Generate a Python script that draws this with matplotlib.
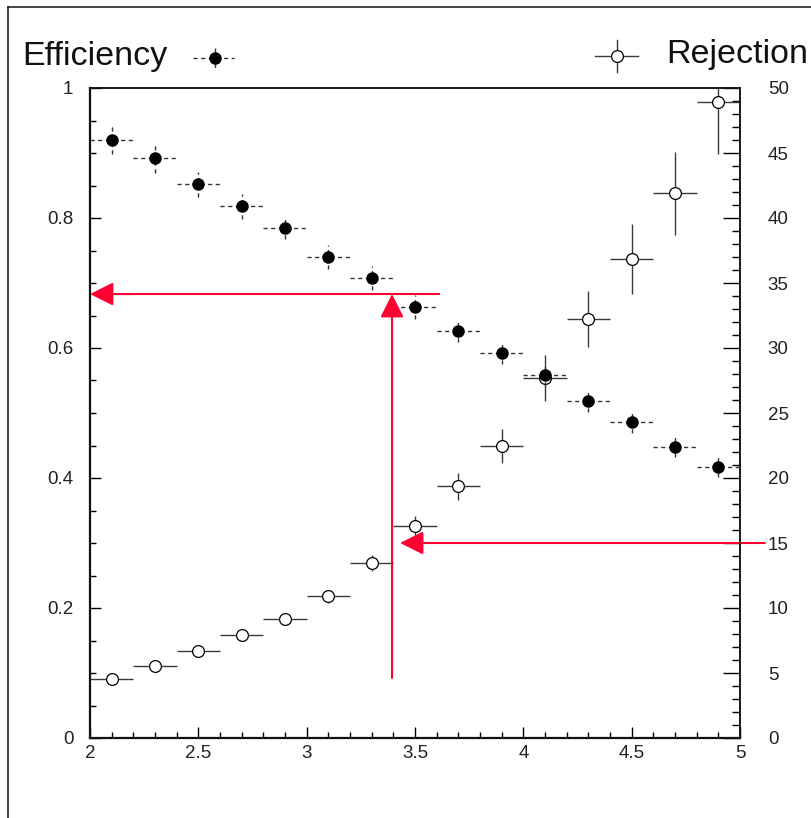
import numpy as np
import matplotlib
matplotlib.use("Agg")
import matplotlib.pyplot as plt
from matplotlib.ticker import MultipleLocator, FuncFormatter

plt.rcParams['font.family'] = ['Liberation Sans', 'DejaVu Sans']

# ---- data ----
x_centers = [2.1, 2.3, 2.5, 2.7, 2.9, 3.1, 3.3, 3.5, 3.7, 3.9, 4.1, 4.3, 4.5, 4.7, 4.9]
x_halfwidth = 0.1
efficiency = [0.920, 0.892, 0.852, 0.818, 0.785, 0.740, 0.708, 0.663, 0.626, 0.592,
              0.558, 0.518, 0.486, 0.448, 0.417]
efficiency_err = [0.022, 0.023, 0.019, 0.019, 0.018, 0.018, 0.018, 0.018, 0.017, 0.017,
                  0.017, 0.016, 0.016, 0.016, 0.015]
rejection = [4.54, 5.54, 6.69, 7.92, 9.15, 10.92, 13.46, 16.3, 19.38, 22.46,
             27.7, 32.2, 36.85, 41.9, 48.9]
rejection_err = [0.25, 0.3, 0.35, 0.4, 0.45, 0.5, 0.6, 0.8, 1.04, 1.3,
                 1.77, 2.15, 2.7, 3.2, 4.0]

# annotation values (cut choice)
cut_x = 3.394
cut_eff = 0.683
cut_rej = 15.0
line_end_x = 3.615
arrow_start_low = 0.0923
rej_arrow_tip_x = 3.431
rej_arrow_start_x = 5.115

RED = '#ff0033'

fig = plt.figure(figsize=(8.12, 8.18), dpi=100)
ax = fig.add_axes([90/812, 1-738/818, 650/812, 650/818])
ax2 = ax.twinx()
ax.set_zorder(ax2.get_zorder() + 1)
ax.patch.set_visible(False)

ax.set_xlim(2, 5)
ax.set_ylim(0, 1)
ax2.set_ylim(0, 50)

fmt = FuncFormatter(lambda v, p: '%g' % round(v, 3))
ax.xaxis.set_major_locator(MultipleLocator(0.5))
ax.xaxis.set_minor_locator(MultipleLocator(0.1))
ax.yaxis.set_major_locator(MultipleLocator(0.2))
ax.yaxis.set_minor_locator(MultipleLocator(0.05))
ax2.yaxis.set_major_locator(MultipleLocator(5))
ax2.yaxis.set_minor_locator(MultipleLocator(1))
ax.xaxis.set_major_formatter(fmt)
ax.yaxis.set_major_formatter(fmt)
ax2.yaxis.set_major_formatter(fmt)

lab_col = '#222222'
ax.tick_params(axis='x', which='major', direction='in', length=8, width=1, pad=5,
               labelsize=13.5, labelcolor=lab_col, top=False)
ax.tick_params(axis='x', which='minor', direction='in', length=4.3, width=1, top=False)
ax.tick_params(axis='y', which='major', direction='in', length=8, width=1, pad=12,
               labelsize=13.5, labelcolor=lab_col, right=False)
ax.tick_params(axis='y', which='minor', direction='in', length=4.3, width=1, right=False)
ax2.tick_params(axis='y', which='major', direction='in', length=12, width=1, pad=20,
                labelsize=13.5, labelcolor=lab_col)
ax2.tick_params(axis='y', which='minor', direction='in', length=6, width=1)
ax2.tick_params(axis='x', which='both', top=False, bottom=False)

for a in (ax, ax2):
    for s in a.spines.values():
        s.set_linewidth(1.1)
        s.set_color('#111111')
ax.spines['left'].set_linewidth(1.6)
ax.spines['bottom'].set_linewidth(1.6)

# rejection (open circles, solid error bars)
r = ax2.errorbar(x_centers, rejection, xerr=x_halfwidth, yerr=rejection_err,
                 fmt='o', ms=8.5, mfc='white', mec='black', mew=0.9,
                 ecolor='#3a3a3a', elinewidth=1.0, capsize=0, zorder=3)

# efficiency (filled circles, dashed error bars)
e = ax.errorbar(x_centers, efficiency, xerr=x_halfwidth, yerr=efficiency_err,
                fmt='o', ms=8, mfc='black', mec='black',
                ecolor='#333333', elinewidth=1.0, capsize=0, zorder=4)
for bl in e[2]:
    bl.set_linestyle((0, (3, 2.5)))

# red arrows
arrow_style = '-|>,head_length=1.0,head_width=0.5'
ax.plot([2.0 + 0.09, line_end_x], [cut_eff, cut_eff], color=RED, lw=1.5, zorder=6,
        solid_capstyle='butt')
ax.annotate('', xy=(2.0, cut_eff), xytext=(2.2, cut_eff),
            arrowprops=dict(arrowstyle=arrow_style, mutation_scale=14.4, color=RED,
                            lw=1.5, shrinkA=0, shrinkB=0),
            zorder=7, annotation_clip=False)
ax.annotate('', xy=(cut_x, cut_eff), xytext=(cut_x, arrow_start_low),
            arrowprops=dict(arrowstyle=arrow_style, mutation_scale=14.4, color=RED,
                            lw=1.5, shrinkA=0, shrinkB=0),
            zorder=7, annotation_clip=False)
ax2.annotate('', xy=(rej_arrow_tip_x, cut_rej), xytext=(rej_arrow_start_x, cut_rej),
             arrowprops=dict(arrowstyle=arrow_style, mutation_scale=14.4, color=RED,
                             lw=1.5, shrinkA=0, shrinkB=0),
             zorder=7, annotation_clip=False)

# overlay in pixel coordinates for legend and canvas frame
ov = fig.add_axes([0, 0, 1, 1], zorder=-5)
ov.set_xlim(0, 812)
ov.set_ylim(818, 0)
ov.axis('off')
ov.plot([8.5, 8.5], [6.5, 818], color='#111111', lw=1.1)
ov.plot([8.5, 812], [6.5, 6.5], color='#111111', lw=1.1)

ov.text(22, 57, 'Efficiency', fontsize=24.5, ha='left', va='center', color='#111111')
ov.text(808, 55, 'Rejection', fontsize=24.5, ha='right', va='center', color='#111111')

ov.plot([193, 234], [58, 58], color='#333333', lw=1.0, ls=(0, (3, 2.5)))
ov.plot([215, 215], [48, 70], color='#333333', lw=1.0, ls=(0, (3, 2.5)))
ov.plot([215], [58], 'o', ms=8, mfc='black', mec='black')

ov.plot([595, 638], [56, 56], color='#3a3a3a', lw=1.0)
ov.plot([617, 617], [40, 72], color='#3a3a3a', lw=1.0)
ov.plot([617], [56], 'o', ms=8.5, mfc='white', mec='black', mew=0.9)

fig.savefig('out.png', dpi=100)
